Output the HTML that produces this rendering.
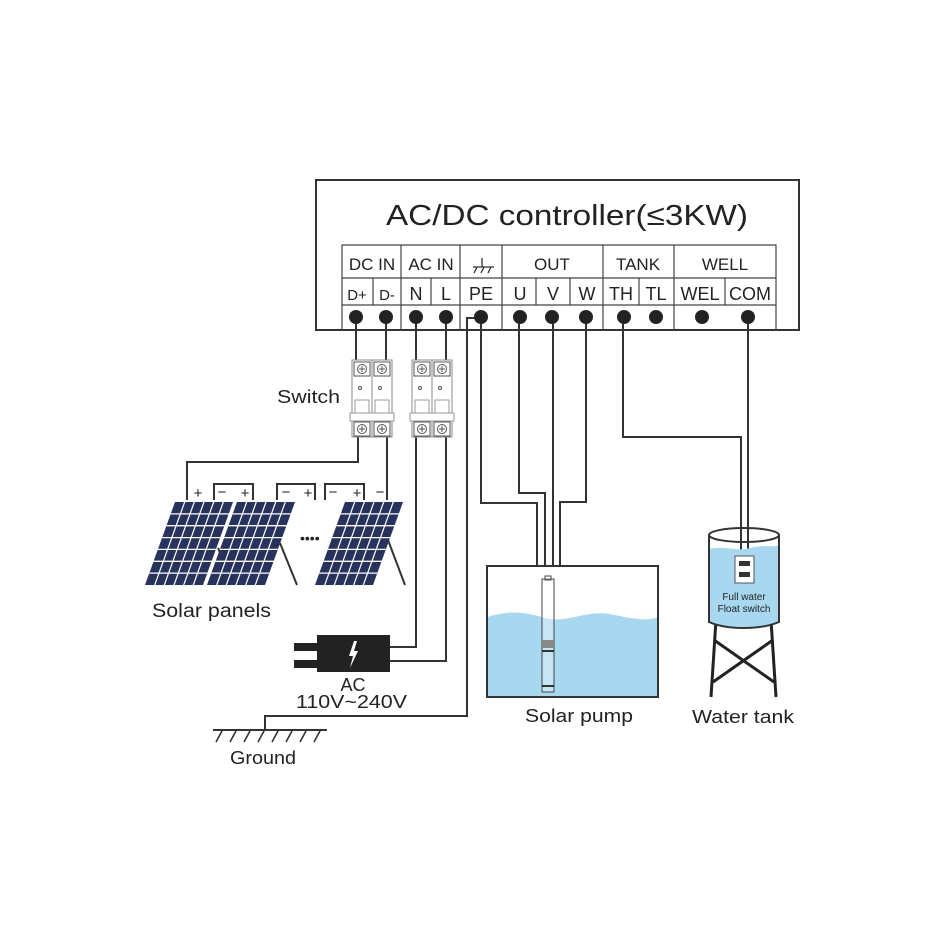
<!DOCTYPE html>
<html><head><meta charset="utf-8"><style>
html,body{margin:0;padding:0;background:#fff}
svg{display:block}
text{font-family:"Liberation Sans",sans-serif;fill:#222}
</style></head><body>
<svg width="944" height="944" viewBox="0 0 944 944" xmlns="http://www.w3.org/2000/svg">
<defs>
<g id="panel">
 <rect x="0" y="0" width="58" height="83" fill="#27335c"/>
 <g stroke="#fff" stroke-width="1.3">
  <line x1="9.7" y1="0" x2="9.7" y2="83"/><line x1="19.3" y1="0" x2="19.3" y2="83"/><line x1="29" y1="0" x2="29" y2="83"/>
  <line x1="38.7" y1="0" x2="38.7" y2="83"/><line x1="48.3" y1="0" x2="48.3" y2="83"/>
  <line x1="0" y1="11.9" x2="58" y2="11.9"/><line x1="0" y1="23.7" x2="58" y2="23.7"/><line x1="0" y1="35.6" x2="58" y2="35.6"/>
  <line x1="0" y1="47.4" x2="58" y2="47.4"/><line x1="0" y1="59.3" x2="58" y2="59.3"/><line x1="0" y1="71.1" x2="58" y2="71.1"/>
 </g>
</g>
<g id="brk">
 <rect x="0" y="0" width="40" height="77" fill="#fff" stroke="#888" stroke-width="1"/>
 <line x1="20" y1="0" x2="20" y2="77" stroke="#888" stroke-width="1"/>
 <g fill="#fff" stroke="#555" stroke-width="1">
  <rect x="2" y="2" width="16" height="14"/><rect x="22" y="2" width="16" height="14"/>
  <rect x="2" y="62" width="16" height="14"/><rect x="22" y="62" width="16" height="14"/>
  <circle cx="10" cy="9" r="4.5"/><circle cx="30" cy="9" r="4.5"/>
  <circle cx="10" cy="69" r="4.5"/><circle cx="30" cy="69" r="4.5"/>
  <rect x="3" y="40" width="14" height="14" stroke="#999"/><rect x="23" y="40" width="14" height="14" stroke="#999"/>
  <rect x="-2" y="53" width="44" height="8" stroke="#999"/>
 </g>
 <g stroke="#555" stroke-width="1">
  <line x1="7" y1="9" x2="13" y2="9"/><line x1="10" y1="6" x2="10" y2="12"/>
  <line x1="27" y1="9" x2="33" y2="9"/><line x1="30" y1="6" x2="30" y2="12"/>
  <line x1="7" y1="69" x2="13" y2="69"/><line x1="10" y1="66" x2="10" y2="72"/>
  <line x1="27" y1="69" x2="33" y2="69"/><line x1="30" y1="66" x2="30" y2="72"/>
  <circle cx="8" cy="28" r="1.5" fill="none"/><circle cx="28" cy="28" r="1.5" fill="none"/>
 </g>
</g>
</defs>

<!-- controller -->
<rect x="316" y="180" width="483" height="150" fill="#fff" stroke="#333" stroke-width="2"/>
<text x="386" y="225" font-size="29" textLength="362" lengthAdjust="spacingAndGlyphs">AC/DC controller(≤3KW)</text>
<g stroke="#444" stroke-width="1.2" fill="none">
 <polyline points="342,330 342,245 776,245 776,330"/>
 <line x1="342" y1="278" x2="776" y2="278"/>
 <line x1="342" y1="305" x2="776" y2="305"/>
 <line x1="401" y1="245" x2="401" y2="330"/><line x1="460" y1="245" x2="460" y2="330"/>
 <line x1="502" y1="245" x2="502" y2="330"/><line x1="603" y1="245" x2="603" y2="330"/>
 <line x1="674" y1="245" x2="674" y2="330"/>
 <line x1="373" y1="278" x2="373" y2="305"/><line x1="431" y1="278" x2="431" y2="305"/>
 <line x1="536" y1="278" x2="536" y2="305"/><line x1="570" y1="278" x2="570" y2="305"/>
 <line x1="639" y1="278" x2="639" y2="305"/><line x1="725" y1="278" x2="725" y2="305"/>
</g>
<g font-size="17" text-anchor="middle">
 <text x="372" y="270">DC  IN</text><text x="431" y="270">AC  IN</text>
 <text x="552" y="270">OUT</text><text x="638" y="270">TANK</text><text x="725" y="270">WELL</text>
 <text x="357" y="300" font-size="15">D+</text><text x="387" y="300" font-size="15">D-</text>
 <text x="416" y="300" font-size="18">N</text><text x="446" y="300" font-size="18">L</text><text x="481" y="300" font-size="18">PE</text>
 <text x="520" y="300" font-size="18">U</text><text x="553" y="300" font-size="18">V</text><text x="587" y="300" font-size="18">W</text>
 <text x="621" y="300" font-size="18">TH</text><text x="656" y="300" font-size="18">TL</text>
 <text x="700" y="300" font-size="18">WEL</text><text x="750" y="300" font-size="18">COM</text>
</g>
<g stroke="#333" stroke-width="1.3" fill="none">
 <line x1="482" y1="258" x2="482" y2="267"/><line x1="473" y1="267" x2="494" y2="267"/>
 <line x1="477" y1="267" x2="474" y2="273"/><line x1="484" y1="267" x2="481" y2="273"/><line x1="491" y1="267" x2="488" y2="273"/>
</g>

<!-- wires -->
<g stroke="#333" stroke-width="2" fill="none">
 <line x1="356" y1="317" x2="356" y2="362"/><line x1="386" y1="317" x2="386" y2="362"/>
 <line x1="416" y1="317" x2="416" y2="362"/><line x1="446" y1="317" x2="446" y2="362"/>
 <polyline points="358,436 358,462 187,462 187,500"/>
 <line x1="387" y1="436" x2="387" y2="500"/>
 <polyline points="416,436 416,647 390,647"/>
 <polyline points="446,436 446,661 390,661"/>
 <polyline points="481,317 481,503 537,503 537,567"/>
 <polyline points="519,317 519,493 545,493 545,567"/>
 <line x1="553" y1="317" x2="553" y2="567"/>
 <polyline points="586,317 586,502 560,502 560,567"/>
 <polyline points="481,318 467,318 467,716 265,716 265,730"/>
 <polyline points="623,317 623,437 741,437 741,557"/>
 <line x1="748" y1="317" x2="748" y2="557"/>
 <polyline points="214,500 214,484 253,484 253,500"/>
 <polyline points="277,500 277,484 315,484 315,500"/>
 <polyline points="325,500 325,484 364,484 364,500"/>
</g>
<g fill="#222">
 <circle cx="356" cy="317" r="7"/><circle cx="386" cy="317" r="7"/><circle cx="416" cy="317" r="7"/><circle cx="446" cy="317" r="7"/>
 <circle cx="481" cy="317" r="7"/><circle cx="520" cy="317" r="7"/><circle cx="552" cy="317" r="7"/><circle cx="586" cy="317" r="7"/>
 <circle cx="624" cy="317" r="7"/><circle cx="656" cy="317" r="7"/><circle cx="702" cy="317" r="7"/><circle cx="748" cy="317" r="7"/>
</g>

<!-- switches -->
<use href="#brk" x="352" y="360"/>
<use href="#brk" x="412" y="360"/>
<text x="277" y="403" font-size="18" textLength="63" lengthAdjust="spacingAndGlyphs">Switch</text>

<!-- panels -->
<g font-size="15" text-anchor="middle">
 <text x="198" y="498">+</text><text x="222" y="497">−</text><text x="245" y="498">+</text>
 <text x="286" y="497">−</text><text x="308" y="498">+</text><text x="333" y="497">−</text>
 <text x="357" y="498">+</text><text x="380" y="497">−</text>
</g>
<g stroke="#333" stroke-width="2">
 <line x1="218" y1="548" x2="232" y2="580"/>
 <line x1="280" y1="543" x2="297" y2="585"/>
 <line x1="388" y1="540" x2="405" y2="585"/>
</g>
<use href="#panel" transform="matrix(1,0,-0.3614,1,175,502)"/>
<use href="#panel" transform="matrix(1,0,-0.3614,1,237,502)"/>
<use href="#panel" transform="matrix(1,0,-0.3614,1,345,502)"/>
<text x="300" y="543" font-size="14" fill="#333">••••</text>
<text x="152" y="617" font-size="19" textLength="119" lengthAdjust="spacingAndGlyphs">Solar panels</text>

<!-- AC plug -->
<rect x="294" y="643" width="24" height="8" fill="#222"/>
<rect x="294" y="660" width="24" height="8" fill="#222"/>
<rect x="317" y="635" width="73" height="37" fill="#222"/>
<polygon points="354,641 349,656 353,656 350,668 358,651 354,651 357,641" fill="#fff"/>
<text x="353" y="691" font-size="18" text-anchor="middle">AC</text>
<text x="296" y="708" font-size="18" textLength="111" lengthAdjust="spacingAndGlyphs">110V~240V</text>

<!-- ground -->
<line x1="213" y1="730" x2="327" y2="730" stroke="#333" stroke-width="2"/>
<g stroke="#333" stroke-width="1.6">
 <line x1="222" y1="731" x2="216" y2="742"/><line x1="236" y1="731" x2="230" y2="742"/><line x1="250" y1="731" x2="244" y2="742"/>
 <line x1="264" y1="731" x2="258" y2="742"/><line x1="278" y1="731" x2="272" y2="742"/><line x1="292" y1="731" x2="286" y2="742"/>
 <line x1="306" y1="731" x2="300" y2="742"/><line x1="320" y1="731" x2="314" y2="742"/>
</g>
<text x="230" y="764" font-size="18" textLength="66" lengthAdjust="spacingAndGlyphs">Ground</text>

<!-- pump well -->
<path d="M487,617 C510,610 525,612 545,618 C565,624 585,610 610,614 C630,618 645,622 658,617 L658,697 L487,697 Z" fill="#a8d8f0"/>
<rect x="487" y="566" width="171" height="131" fill="none" stroke="#333" stroke-width="2"/>
<g stroke="#444" stroke-width="1" fill="#fff" fill-opacity="0.35">
 <rect x="542" y="579" width="12" height="113"/>
 <rect x="545" y="576" width="6" height="4"/>
</g>
<rect x="542" y="640" width="12" height="8" fill="#888"/>
<rect x="542" y="650" width="12" height="2" fill="#333"/>
<rect x="542" y="685" width="12" height="2" fill="#333"/>
<text x="525" y="722" font-size="18" textLength="108" lengthAdjust="spacingAndGlyphs">Solar pump</text>

<!-- water tank -->
<g stroke="#222" stroke-width="3">
 <line x1="716" y1="620" x2="711" y2="697"/><line x1="771" y1="620" x2="776" y2="697"/>
 <line x1="714" y1="640" x2="774" y2="682"/><line x1="773" y1="640" x2="713" y2="682"/>
</g>
<path d="M709,549 C725,545 735,552 750,548 C765,544 772,548 779,545 L779,622 C760,630 727,630 709,622 Z" fill="#a8d8f0"/>
<path d="M709,535 L709,622 C727,630 760,630 779,622 L779,535" fill="none" stroke="#333" stroke-width="2"/>
<ellipse cx="744" cy="535" rx="35" ry="7" fill="none" stroke="#333" stroke-width="2"/>
<rect x="735" y="556" width="19" height="27" fill="#fff" stroke="#555" stroke-width="1"/>
<rect x="739" y="561" width="11" height="5" fill="#333"/>
<rect x="739" y="572" width="11" height="5" fill="#333"/>
<text x="744" y="600" font-size="10" text-anchor="middle">Full water</text>
<text x="744" y="612" font-size="10" text-anchor="middle">Float switch</text>
<text x="692" y="723" font-size="18" textLength="102" lengthAdjust="spacingAndGlyphs">Water tank</text>
</svg>
</body></html>
